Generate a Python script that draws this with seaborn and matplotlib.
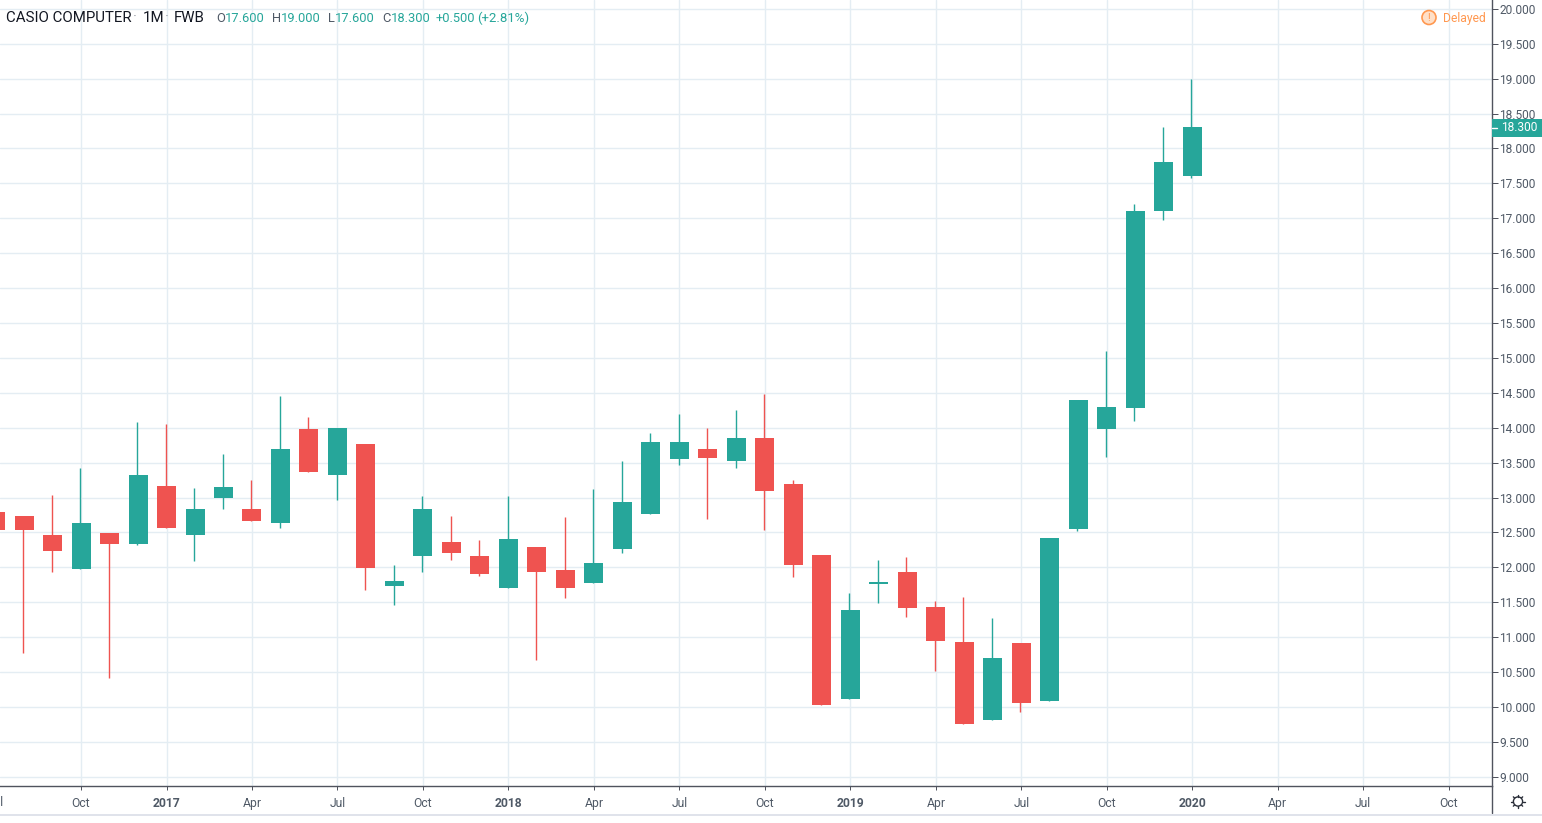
import numpy as np
import pandas as pd
import matplotlib
matplotlib.use("Agg")
import matplotlib.pyplot as plt
from matplotlib.patches import Circle, Rectangle
import seaborn as sns

# ===============================
# DATA (monthly candles, Jul 2016 - Jan 2020)
# ===============================
months = list(range(-6, 37))  # 0 = Jan 2017

opens = [12.79, 12.74, 12.47, 11.97, 12.49, 12.33, 13.17, 12.47, 12.99, 12.84, 12.64,
         13.98, 13.33, 13.76, 11.73, 12.17, 12.37, 12.16, 11.70, 12.29, 11.96, 11.77,
         12.27, 12.76, 13.55, 13.70, 13.52, 13.86, 13.20, 12.18, 10.12, 11.76, 11.93,
         11.43, 10.93, 9.82, 10.92, 10.09, 12.55, 13.98, 14.28, 17.10, 17.60]
closes = [12.54, 12.54, 12.23, 12.63, 12.34, 13.32, 12.57, 12.84, 13.15, 12.67, 13.69,
          13.36, 13.99, 11.99, 11.81, 12.83, 12.21, 11.90, 12.40, 11.94, 11.70, 12.06,
          12.93, 13.80, 13.80, 13.56, 13.86, 13.09, 12.04, 10.03, 11.39, 11.79, 11.42,
          10.95, 9.75, 10.70, 10.06, 12.42, 14.40, 14.30, 17.10, 17.81, 18.30]
highs = [12.79, 12.74, 13.03, 13.43, 12.49, 14.08, 14.06, 13.13, 13.63, 13.25, 14.46,
         14.15, 13.99, 13.76, 12.04, 13.02, 12.74, 12.39, 13.02, 12.29, 12.72, 13.12,
         13.52, 13.93, 14.19, 14.00, 14.25, 14.48, 13.25, 12.18, 11.63, 12.10, 12.15,
         11.52, 11.58, 11.28, 10.92, 12.42, 14.40, 15.10, 17.21, 18.30, 19.00]
lows = [12.54, 10.77, 11.94, 11.97, 10.42, 12.32, 12.57, 12.09, 12.83, 12.67, 12.57,
        13.36, 12.96, 11.68, 11.46, 11.94, 12.10, 11.87, 11.70, 10.67, 11.56, 11.77,
        12.20, 12.76, 13.47, 12.69, 13.43, 12.54, 11.86, 10.03, 10.12, 11.49, 11.29,
        10.52, 9.75, 9.82, 9.93, 10.09, 12.52, 13.58, 14.10, 16.98, 17.58]

xtick_pos = list(range(-3, 46, 3))
xtick_labels = ["Oct", "2017", "Apr", "Jul", "Oct", "2018", "Apr", "Jul", "Oct",
                "2019", "Apr", "Jul", "Oct", "2020", "Apr", "Jul", "Oct"]
ytick_pos = [9 + 0.5 * i for i in range(23)]

UP = "#26a69a"
DOWN = "#ef5350"
GRID = "#e4edf3"
AXIS = "#50535e"
TEXT = "#4f5966"
FONT = "Roboto"

df = pd.DataFrame({"month": months, "open": opens, "close": closes, "high": highs, "low": lows})
df["base"] = df[["open", "close"]].min(axis=1)
df["body"] = (df["close"] - df["open"]).abs()
df["up"] = df["close"] >= df["open"]

# ===============================
# PLOT
# ===============================
sns.set_theme(style="white")
plt.rcParams["font.family"] = [FONT, "DejaVu Sans"]

fig = plt.figure(figsize=(15.42, 8.23), dpi=100, facecolor="white")
ax = fig.add_axes([0, 1 - 786 / 823, 1492 / 1542, 786 / 823])

for is_up, color in [(True, UP), (False, DOWN)]:
    part = df[df["up"] == is_up]
    ax.vlines(part["month"] - 0.03, part["low"], part["high"], color=color, linewidth=1.0, zorder=3)
    sns.barplot(data=part, x="month", y="body", bottom=part["base"].values, native_scale=True,
                color=color, saturation=1, width=0.667, errorbar=None, linewidth=0, zorder=4, ax=ax)

ax.set_xlabel("")
ax.set_ylabel("")

ax.set_xticks(xtick_pos)
ax.set_xticklabels(xtick_labels, fontsize=8.7, color=TEXT)
for lab in ax.get_xticklabels():
    if lab.get_text().isdigit():
        lab.set_fontweight("bold")
ax.set_yticks(ytick_pos)
ax.set_yticklabels([f"{v:.3f}" for v in ytick_pos], fontsize=8.6, color=TEXT)
# limits go after the ticks, set_xticks widens the view otherwise
ax.set_xlim(-5.844, 46.52)
ax.set_ylim(8.869, 20.126)
ax.yaxis.tick_right()
ax.tick_params(axis="x", length=3, width=0.72, color=AXIS, pad=5, bottom=True)
ax.tick_params(axis="y", length=4, width=0.72, color=AXIS, pad=1.3, right=True)
ax.grid(True, color=GRID, linewidth=1.0, zorder=0)
ax.set_axisbelow(True)
for side in ["top", "left"]:
    ax.spines[side].set_visible(False)
for side in ["right", "bottom"]:
    ax.spines[side].set_color(AXIS)
    ax.spines[side].set_linewidth(1.0)

# ===============================
# OVERLAY (header, price tag, icons) in pixel coordinates
# ===============================
ov = fig.add_axes([0, 0, 1, 1], zorder=10)
ov.set_xlim(0, 1542)
ov.set_ylim(823, 0)
ov.axis("off")

ov.plot([1492, 1492], [786, 813], color=AXIS, lw=1.0)
ov.plot([0, 1542], [814.5, 814.5], color="#e0e3eb", lw=1.4)

# Jul 2016 label, cut by the left edge like in the original
ov.text(-4.5, 802, "Jul", color=TEXT, fontsize=8.7, ha="center", va="center")

header = [(6, "CASIO COMPUTER", "#131722"), (133, "·", "#9598a1"),
          (143, "1M", "#131722"), (165, "·", "#9598a1"), (174, "FWB", "#131722")]
for x, s, c in header:
    ov.text(x, 18, s, color=c, fontsize=10.8, va="center", ha="left")

ohlc = [(216, "O", "17.600"), (272, "H", "19.000"), (328, "L", "17.600"), (382, "C", "18.300")]
for x, letter, val in ohlc:
    t = ov.text(x, 18.5, letter, color=TEXT, fontsize=9.3, va="center", ha="left")
    ov.annotate(val, xy=(1, 0.5), xycoords=t, color=UP, fontsize=9.3, va="center", ha="left")
ov.text(436, 18.5, "+0.500", color=UP, fontsize=9.3, va="center", ha="left")
ov.text(477, 18.5, "(+2.81%)", color=UP, fontsize=9.5, va="center", ha="left")

ov.add_patch(Circle((1429, 17.5), 7, facecolor="#ffe0c8", edgecolor="#ff9850", lw=1.2))
ov.text(1429, 17.5, "!", color="#ff9850", fontsize=7.5, ha="center", va="center")
ov.text(1443, 18, "Delayed", color="#ff9850", fontsize=8.7, ha="left", va="center")

ov.add_patch(Rectangle((1492, 119), 50, 18, facecolor=UP, edgecolor="none"))
ov.plot([1492, 1497], [127.5, 127.5], color="white", lw=1.0)
ov.text(1501, 127.5, "18.300", color="white", fontsize=8.6, ha="left", va="center")

# settings gear
ov.add_patch(Circle((1518, 801.5), 4.6, facecolor="white", edgecolor="#2a2e39", lw=1.0))
for a in np.arange(0, 2 * np.pi, np.pi / 4):
    ov.plot([1518 + 4.8 * np.cos(a), 1518 + 6.6 * np.cos(a)],
            [801.5 + 4.8 * np.sin(a), 801.5 + 6.6 * np.sin(a)], color="#2a2e39", lw=1.0)

fig.savefig("out.png", dpi=100, facecolor="white")
